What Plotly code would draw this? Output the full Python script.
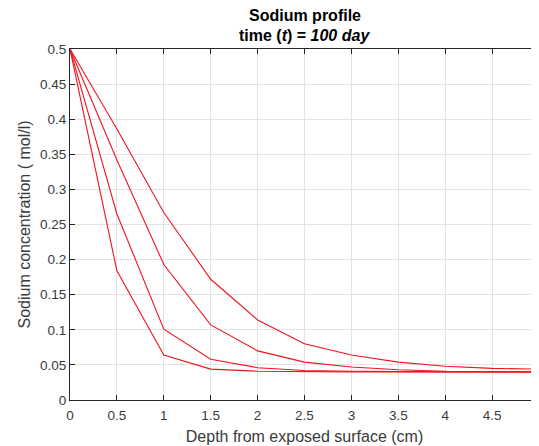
import plotly.graph_objects as go

depth = [0, 0.5, 1, 1.5, 2, 2.5, 3, 3.5, 4, 4.5, 5]
series_a = [0.5, 0.184, 0.064, 0.044, 0.041, 0.040, 0.040, 0.040, 0.040, 0.040, 0.040]
series_b = [0.5, 0.265, 0.101, 0.058, 0.046, 0.042, 0.041, 0.040, 0.040, 0.040, 0.040]
series_c = [0.5, 0.342, 0.193, 0.107, 0.070, 0.054, 0.047, 0.043, 0.041, 0.041, 0.040]
series_d = [0.5, 0.386, 0.267, 0.172, 0.114, 0.080, 0.064, 0.054, 0.048, 0.045, 0.044]

x_ticks = [0, 0.5, 1, 1.5, 2, 2.5, 3, 3.5, 4, 4.5, 5]
x_labels = ["0", "0.5", "1", "1.5", "2", "2.5", "3", "3.5", "4", "4.5", "5"]
y_ticks = [0, 0.05, 0.1, 0.15, 0.2, 0.25, 0.3, 0.35, 0.4, 0.45, 0.5]
y_labels = ["0", "0.05", "0.1", "0.15", "0.2", "0.25", "0.3", "0.35", "0.4", "0.45", "0.5"]

title_line1 = "<b>Sodium profile</b>"
title_line2 = "<b>time (<i>t</i>) = <i>100 day</i></b>"

FONT = "Liberation Sans, Arial, Helvetica"

fig = go.Figure()
for s in [series_a, series_b, series_c, series_d]:
    fig.add_trace(go.Scatter(x=depth, y=s, mode="lines",
                             line=dict(color="#f0141e", width=1.1),
                             showlegend=False, hoverinfo="skip"))

axis_common = dict(showline=True, linecolor="#262626", linewidth=1, mirror="ticks",
                   ticks="inside", ticklen=5, tickcolor="#262626",
                   showgrid=True, gridcolor="#e3e3e3", gridwidth=1, zeroline=False,
                   automargin=False,
                   tickfont=dict(family=FONT, size=13.5, color="#3a3a3a"))

# figure sits 8px into the page (body margin), so sizes are reduced by 8
fig.update_layout(
    width=531, height=438,
    margin=dict(l=62, r=0, t=41, b=46),
    paper_bgcolor="white", plot_bgcolor="white",
    font=dict(family=FONT, color="#262626"),
    xaxis=dict(range=[0, 5], tickvals=x_ticks, ticktext=x_labels,
               ticklabelstandoff=3,
               title=dict(text="Depth from exposed surface (cm)", standoff=8,
                          font=dict(size=16, color="#3a3a3a")),
               **axis_common),
    yaxis=dict(range=[0, 0.5], tickvals=y_ticks, ticktext=y_labels,
               title=dict(text="Sodium concentration ( mol/l)", standoff=5,
                          font=dict(size=16, color="#3a3a3a")),
               **axis_common),
    annotations=[
        dict(text=title_line1, xref="paper", yref="paper", x=0.501, y=1 + 34 / 351,
             xanchor="center", yanchor="middle", showarrow=False,
             font=dict(family=FONT, size=16, color="#000000")),
        dict(text=title_line2, xref="paper", yref="paper", x=0.501, y=1 + 14 / 351,
             xanchor="center", yanchor="middle", showarrow=False,
             font=dict(family=FONT, size=16, color="#000000")),
    ],
)
fig.write_html("out.html")
